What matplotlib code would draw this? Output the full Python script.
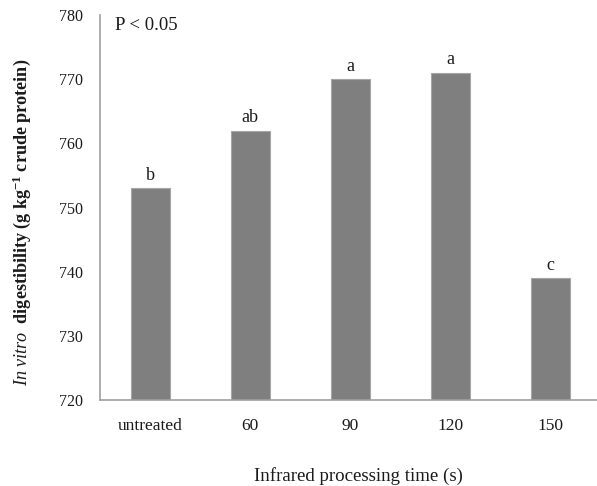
import numpy as np
import matplotlib
matplotlib.use("Agg")
import matplotlib.pyplot as plt

plt.rcParams["font.family"] = ["Liberation Serif", "DejaVu Serif"]
plt.rcParams["mathtext.fontset"] = "custom"
plt.rcParams["mathtext.rm"] = "Liberation Serif"
plt.rcParams["mathtext.it"] = "Liberation Serif:italic"
plt.rcParams["mathtext.bf"] = "Liberation Serif:bold"

categories = ["untreated", "60", "90", "120", "150"]
digestibility = [753, 762, 770, 771, 739]
letters = ["b", "ab", "a", "a", "c"]
y_ticks = [720, 730, 740, 750, 760, 770, 780]

fig = plt.figure(figsize=(5.97, 4.86), dpi=100)
ax = fig.add_axes([0.1675, 0.177, 0.838, 0.792])

x = np.arange(len(categories))
ax.bar(x, digestibility, width=0.39, bottom=0, color="#7f7f7f",
       edgecolor="#a6a6a6", linewidth=0.8, zorder=2)

for xi, v, lab in zip(x, digestibility, letters):
    ax.text(xi, v + 0.7, lab, ha="center", va="bottom", fontsize=13, color="#1a1a1a")

ax.set_xlim(-0.5, 4.5)
ax.set_ylim(720, 780)
ax.set_yticks(y_ticks)
ax.set_xticks(x)
ax.set_xticklabels(categories)
ax.tick_params(axis="both", length=0, colors="#1a1a1a")
ax.tick_params(axis="y", labelsize=11.5, pad=12)
ax.tick_params(axis="x", labelsize=12.5, pad=13)

for side in ("top", "right"):
    ax.spines[side].set_visible(False)
for side in ("left", "bottom"):
    ax.spines[side].set_color("#a0a0a0")
    ax.spines[side].set_linewidth(1.2)

ax.text(0.03, 0.995, "P < 0.05", transform=ax.transAxes, ha="left", va="top",
        fontsize=13.5, color="#1a1a1a")

fig.text(0.6, 0.002, "Infrared processing time (s)", ha="center", va="bottom",
         fontsize=13.6, color="#1a1a1a")
fig.text(0.037, 0.543,
         r"$\mathit{In\ vitro}$  $\mathbf{digestibility\ (g\ kg^{-1}\ crude\ protein)}$",
         rotation=90, ha="center", va="center", fontsize=13.1, color="#1a1a1a")

fig.savefig("out.png", dpi=100)
